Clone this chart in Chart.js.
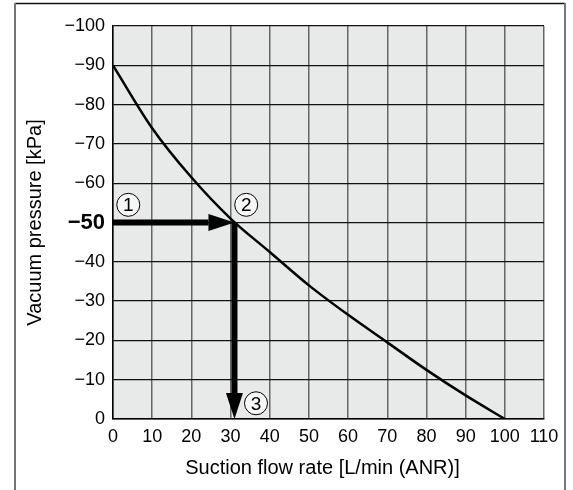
<!DOCTYPE html>
<html>
<head>
<meta charset="utf-8">
<script src="https://cdn.jsdelivr.net/npm/chart.js@4.4.0/dist/chart.umd.min.js"></script>
<style>
  html, body { margin: 0; padding: 0; background: #fff; }
  #wrap { width: 573px; height: 490px; }
</style>
</head>
<body>
<div id="wrap"><canvas id="c" width="573" height="490"></canvas></div>
<script>
// ---- data ----
const flowRates = [0, 10, 20, 30, 40, 50, 60, 70, 80, 90, 100];
const vacuumPressures = [-90, -74, -61.5, -51, -42.5, -34, -26.5, -19.5, -12.5, -6, 0];
const xTickValues = [0, 10, 20, 30, 40, 50, 60, 70, 80, 90, 100, 110];
const yTickValues = [-100, -90, -80, -70, -60, -50, -40, -30, -20, -10, 0];
const exampleFlow = 31;       // read-off flow at the example point
const examplePressure = -50;  // example vacuum pressure
const markerTexts = ['1', '2', '3'];
const markerFlows = [3.9, 34, 36.5];
const markerPressures = [-54.5, -54.5, -4];
const xTitle = 'Suction flow rate [L/min (ANR)]';

const FONT = '"Liberation Sans", Arial, Helvetica, sans-serif';

const decorPlugin = {
  id: 'decor',
  beforeDraw(chart) {
    const { ctx, chartArea: a } = chart;
    ctx.save();
    ctx.fillStyle = '#fff';
    ctx.fillRect(0, 0, chart.width, chart.height);
    // outer frame
    ctx.strokeStyle = '#111';
    ctx.lineWidth = 1.5;
    ctx.beginPath();
    ctx.moveTo(15, 3.5); ctx.lineTo(565, 3.5);
    ctx.stroke();
    ctx.strokeStyle = '#777';
    ctx.lineWidth = 2;
    ctx.beginPath();
    ctx.moveTo(15, 3); ctx.lineTo(15, chart.height);
    ctx.moveTo(565, 3); ctx.lineTo(565, chart.height);
    ctx.stroke();
    // plot background
    ctx.fillStyle = '#e8e9e9';
    ctx.fillRect(a.left, a.top, a.right - a.left, a.bottom - a.top);
    ctx.restore();
  },
  afterDatasetsDraw(chart) {
    const { ctx } = chart;
    const xs = chart.scales.x, ys = chart.scales.y;
    const px = xs.getPixelForValue(exampleFlow);
    const py = ys.getPixelForValue(examplePressure);
    const x0 = xs.getPixelForValue(0);
    const y0 = ys.getPixelForValue(0);
    const shaft = 6, headW = 17, headL = 26;
    ctx.save();
    ctx.fillStyle = '#000';
    // horizontal arrow
    ctx.fillRect(x0, py - shaft / 2, (px - headL) - x0, shaft);
    ctx.beginPath();
    ctx.moveTo(px - headL, py - headW / 2);
    ctx.lineTo(px, py);
    ctx.lineTo(px - headL, py + headW / 2);
    ctx.closePath();
    ctx.fill();
    // vertical arrow
    ctx.fillRect(px - shaft / 2, py, shaft, (y0 - headL) - py);
    ctx.beginPath();
    ctx.moveTo(px - headW / 2, y0 - headL);
    ctx.lineTo(px, y0);
    ctx.lineTo(px + headW / 2, y0 - headL);
    ctx.closePath();
    ctx.fill();
    // circled markers
    ctx.font = '19px ' + FONT;
    ctx.textAlign = 'center';
    ctx.textBaseline = 'middle';
    for (let i = 0; i < markerTexts.length; i++) {
      const cx = xs.getPixelForValue(markerFlows[i]);
      const cy = ys.getPixelForValue(markerPressures[i]);
      ctx.beginPath();
      ctx.arc(cx, cy, 11.5, 0, Math.PI * 2);
      ctx.fillStyle = '#f6f6f6';
      ctx.fill();
      ctx.lineWidth = 1;
      ctx.strokeStyle = '#000';
      ctx.stroke();
      ctx.fillStyle = '#000';
      ctx.fillText(markerTexts[i], cx, cy + 1);
    }
    // x-axis title
    ctx.font = '20px ' + FONT;
    ctx.fillText(xTitle, 322.5, 468);
    ctx.restore();
  }
};

new Chart(document.getElementById('c'), {
  type: 'line',
  data: {
    labels: flowRates,
    datasets: [{
      data: flowRates.map((f, i) => ({ x: f, y: vacuumPressures[i] })),
      borderColor: '#000',
      borderWidth: 2.5,
      pointRadius: 0,
      cubicInterpolationMode: 'monotone',
      fill: false
    }]
  },
  options: {
    responsive: false,
    animation: false,
    devicePixelRatio: 1,
    layout: { padding: { top: 26, right: 29, left: 0, bottom: 0 } },
    plugins: { legend: { display: false }, tooltip: { enabled: false } },
    scales: {
      x: {
        type: 'linear',
        min: 0, max: 110,
        afterBuildTicks(s) { s.ticks = xTickValues.map(v => ({ value: v })); },
        afterFit(s) { s.height = 71; },
        grid: { color: '#666', lineWidth: 1.5, drawTicks: false },
        border: { color: '#000', width: 1.5 },
        ticks: { color: '#000', padding: 7, font: { family: FONT, size: 18 }, maxRotation: 0, autoSkip: false },
        title: { display: false }
      },
      y: {
        type: 'linear',
        min: -100, max: 0,
        reverse: true,
        afterBuildTicks(s) { s.ticks = yTickValues.map(v => ({ value: v })); },
        afterFit(s) { s.width = 113; },
        grid: { color: '#111', lineWidth: 1.2, drawTicks: false },
        border: { color: '#000', width: 1.5 },
        ticks: {
          color: '#000',
          padding: 8,
          autoSkip: false,
          callback: v => (v === 0 ? '0' : '\u2212' + Math.abs(v)),
          font: ctx => (ctx.tick && ctx.tick.value === -50)
            ? { family: FONT, size: 22, weight: 'bold' }
            : { family: FONT, size: 18 }
        },
        title: {
          display: true,
          text: 'Vacuum pressure [kPa]',
          color: '#000',
          font: { family: FONT, size: 20 },
          padding: { top: 23, bottom: 0 }
        }
      }
    }
  },
  plugins: [decorPlugin]
});
</script>
</body>
</html>
